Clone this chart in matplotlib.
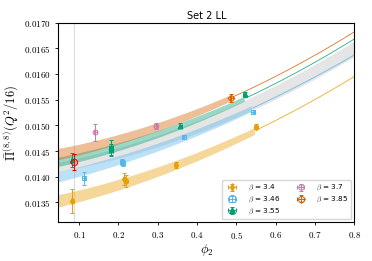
import numpy as np
import matplotlib
matplotlib.use("Agg")
from matplotlib import pyplot as plt

plt.rcParams['mathtext.fontset'] = 'cm'

# data points per beta: phi2, Pi, errors
betas = ["3.4", "3.46", "3.55", "3.7", "3.85"]
colors = ["#E69F00", "#56B4E9", "#009E73", "#CC79A7", "#D55E00"]
markers = ["d", "s", "^", "o", "D"]

phi_34 = [0.082, 0.215, 0.219, 0.346, 0.550]
pi_34 = [0.01353, 0.01396, 0.01392, 0.01423, 0.01497]
err_34 = [0.00023, 0.00012, 0.00012, 0.00006, 0.00005]

phi_346 = [0.111, 0.208, 0.212, 0.367, 0.542]
pi_346 = [0.01397, 0.01429, 0.01426, 0.014767, 0.015265]
err_346 = [0.00013, 0.00006, 0.00006, 0.00004, 0.00004]

phi_355 = [0.082, 0.181, 0.181, 0.357, 0.521]
pi_355 = [0.01432, 0.01457, 0.01452, 0.014993, 0.015604]
err_355 = [0.00014, 0.00015, 0.00012, 0.00005, 0.00005]

phi_37 = [0.141, 0.295]
pi_37 = [0.014864, 0.014993]
err_37 = [0.00016, 0.00006]

phi_385 = [0.487]
pi_385 = [0.01554]
err_385 = [0.00008]

phis = [phi_34, phi_346, phi_355, phi_37, phi_385]
pis = [pi_34, pi_346, pi_355, pi_37, pi_385]
errs = [err_34, err_346, err_355, err_37, err_385]

# fit curves: a + b*phi + c*phi^2 (units 1e-4), band half-width, band end
fit_beta = ["3.4", "3.46", "3.55", "3.85"]
fit_a = [134.51, 139.16, 142.19, 143.71]
fit_b = [15.85, 16.97, 14.23, 13.73]
fit_c = [19.23, 17.12, 20.68, 21.1]
fit_w = [0.00012, 0.00010, 0.00009, 0.00011]
fit_end = [0.550, 0.542, 0.521, 0.487]
fit_color = ["#E69F00", "#56B4E9", "#009E73", "#D55E00"]

# continuum band
cont_abc = [141.26, 12.67, 21.1]
cont_w = [0.00009, 0.00015]

# physical point result
phys_phi = 0.0855
phys_pi = 0.01429
phys_err = 0.00016

fig = plt.figure(figsize=(3.72, 2.61), dpi=100)
ax = fig.add_axes([0.157, 0.148, 0.795, 0.765])

xmin, xmax = 0.047, 0.8
xx = np.linspace(xmin, xmax, 200)

y_c = (cont_abc[0] + cont_abc[1] * xx + cont_abc[2] * xx ** 2) * 1e-4
w_c = np.linspace(cont_w[0], cont_w[1], len(xx))
ax.fill_between(xx, y_c - w_c, y_c + w_c, color="#d0d0d0", alpha=0.55, lw=0, zorder=1)

for a, b, c, w, xe, col in zip(fit_a, fit_b, fit_c, fit_w, fit_end, fit_color):
    yy = (a + b * xx + c * xx ** 2) * 1e-4
    m = xx <= xe
    ww = w * (1 - 0.45 * (xx[m] - xmin) / (xe - xmin))
    ax.fill_between(xx[m], yy[m] - ww, yy[m] + ww, color=col, alpha=0.4, lw=0, zorder=2)
    ax.plot(xx[~m], yy[~m], color=col, lw=0.6, alpha=0.85, zorder=2)

ax.axvline(phys_phi, color="#dddddd", lw=0.8, zorder=0)

for bt, col, mk, ph, pv, pe in zip(betas, colors, markers, phis, pis, errs):
    ax.errorbar(ph, pv, yerr=pe, xerr=0.004, fmt=mk, color=col, mfc="none" if mk in ("s", "o", "D") else col,
                ms=3.5, mew=0.7, elinewidth=0.7, capsize=1.3, zorder=4,
                label=r"$\beta$ = " + bt)

ax.errorbar([phys_phi], [phys_pi], yerr=[phys_err], fmt="o", color="red", mfc="none",
            ms=4.5, mew=0.8, elinewidth=0.8, capsize=1.3, zorder=5)

ax.set_xlim(xmin, xmax)
ax.set_ylim(0.01311, 0.0170)
ax.set_xticks([0.1, 0.2, 0.3, 0.4, 0.5, 0.6, 0.7, 0.8])
ax.set_yticks([0.0135, 0.0140, 0.0145, 0.0150, 0.0155, 0.0160, 0.0165, 0.0170])
ax.xaxis.set_major_formatter(plt.FuncFormatter(lambda v, p: "$%.1f$" % v))
ax.yaxis.set_major_formatter(plt.FuncFormatter(lambda v, p: "$%.4f$" % v))
ax.tick_params(labelsize=6.5, length=2, width=0.6)
for s in ax.spines.values():
    s.set_linewidth(0.8)

ax.set_title("Set 2 LL", fontsize=7, pad=3)
ax.set_xlabel(r"$\phi_2$", fontsize=9, labelpad=1)
ax.set_ylabel(r"$\bar{\Pi}^{(8,8)}(Q^2/16)$", fontsize=9, labelpad=2)

ax.legend(loc="lower right", ncol=2, fontsize=5.2, frameon=True, borderaxespad=0.4,
          handletextpad=1.2, columnspacing=1.8, handlelength=2, markerscale=1.1,
          labelspacing=0.2)

fig.savefig("out.png", dpi=100)
